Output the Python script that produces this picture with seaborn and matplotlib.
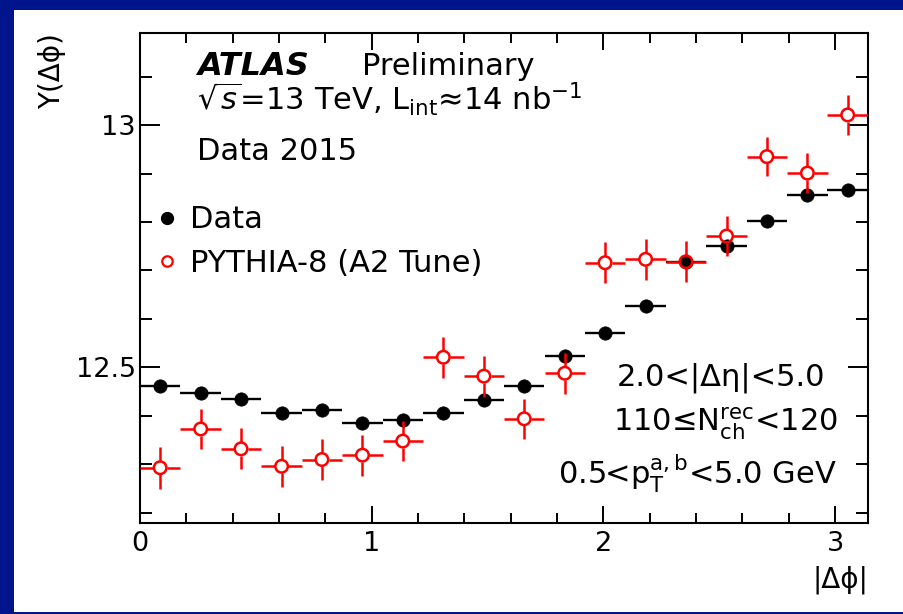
import matplotlib
matplotlib.use("Agg")
import numpy as np
import pandas as pd
import seaborn as sns
import matplotlib.pyplot as plt
from matplotlib.patches import Rectangle
from matplotlib.lines import Line2D
from matplotlib.collections import LineCollection
from matplotlib.ticker import MultipleLocator

# |Δφ| bin centres and half-widths
dphi = [0.087, 0.262, 0.436, 0.611, 0.785, 0.960, 1.134, 1.309, 1.484,
        1.658, 1.833, 2.007, 2.182, 2.356, 2.531, 2.705, 2.880, 3.054]
bin_halfwidth = [0.0873] * 18

# Measured per-trigger yield Y(Δφ)
data_y = [12.461, 12.447, 12.434, 12.406, 12.413, 12.386, 12.391, 12.405, 12.432,
          12.462, 12.523, 12.571, 12.627, 12.718, 12.751, 12.802, 12.856, 12.866]
data_err = [0.004] * 18

# PYTHIA-8 (A2 Tune) prediction
pythia_y = [12.293, 12.373, 12.332, 12.296, 12.310, 12.319, 12.348, 12.521, 12.482,
            12.394, 12.488, 12.716, 12.723, 12.718, 12.771, 12.935, 12.901, 13.021]
pythia_err = [0.043, 0.042, 0.042, 0.042, 0.042, 0.042, 0.042, 0.042, 0.042,
              0.041, 0.042, 0.042, 0.042, 0.042, 0.042, 0.041, 0.041, 0.042]

x_ticks = [0, 1, 2, 3]
y_ticks = [12.5, 13.0]
y_ticklabels = ["12.5", "13"]

df_data = pd.DataFrame({"dphi": dphi, "Y": data_y, "xerr": bin_halfwidth, "yerr": data_err})
df_py = pd.DataFrame({"dphi": dphi, "Y": pythia_y, "xerr": bin_halfwidth, "yerr": pythia_err})

sns.set_theme(style="ticks")
plt.rcParams["font.family"] = ["DejaVu Sans"]
plt.rcParams["mathtext.fontset"] = "dejavusans"
plt.rcParams["text.color"] = "black"
plt.rcParams["axes.labelcolor"] = "black"
plt.rcParams["legend.labelcolor"] = "black"

SLIDE_BLUE = "#00148C"
fig = plt.figure(figsize=(9.04, 6.14), dpi=100, facecolor=SLIDE_BLUE)
fig.patches.append(Rectangle((14 / 904, 2 / 614), 1 - 14 / 904, 602 / 614,
                             transform=fig.transFigure, facecolor="white",
                             edgecolor="none", zorder=-5))

ax = fig.add_axes([140 / 904, 1 - 523 / 614, 728 / 904, 490 / 614])
ax.set_zorder(1)
ax.set_facecolor("white")
ax.set_xlim(0, np.pi)
ax.set_ylim(12.179, 13.19)

MARKER_PT = 9.6
marker_r_px = MARKER_PT / 72 * fig.dpi / 2

# Data: full-width horizontal bars with filled dots
ax.errorbar(df_data["dphi"], df_data["Y"], xerr=df_data["xerr"], yerr=df_data["yerr"],
            fmt="none", ecolor="black", elinewidth=1.7, capsize=0, zorder=2)
sns.scatterplot(data=df_data, x="dphi", y="Y", ax=ax, color="black", marker="o",
                s=MARKER_PT ** 2, edgecolor="black", linewidth=0.5, zorder=3, legend=False)

# PYTHIA: error bars that stop at the edge of the open marker
px_x = ax.transData.transform((1, 0))[0] - ax.transData.transform((0, 0))[0]
px_y = ax.transData.transform((0, 1))[1] - ax.transData.transform((0, 0))[1]
gx = marker_r_px / px_x
gy = marker_r_px / px_y
segs = []
for xc, yc, hw, ey in zip(df_py["dphi"], df_py["Y"], df_py["xerr"], df_py["yerr"]):
    segs.append([(xc - hw, yc), (xc - gx, yc)])
    segs.append([(xc + gx, yc), (xc + hw, yc)])
    segs.append([(xc, yc - ey), (xc, yc - gy)])
    segs.append([(xc, yc + gy), (xc, yc + ey)])
ax.add_collection(LineCollection(segs, colors="#FF0000", linewidths=1.8, zorder=4))
sns.scatterplot(data=df_py, x="dphi", y="Y", ax=ax, marker="o", s=(MARKER_PT - 0.6) ** 2,
                facecolor="none", edgecolor="#FF0000", linewidth=1.8, zorder=5, legend=False)

# Axes styling
for sp in ax.spines.values():
    sp.set_visible(True)
    sp.set_linewidth(1.5)
    sp.set_color("black")
ax.set_xticks(x_ticks)
ax.set_xticklabels([str(t) for t in x_ticks])
ax.set_yticks(y_ticks)
ax.set_yticklabels(y_ticklabels)
ax.xaxis.set_minor_locator(MultipleLocator(0.2))
ax.yaxis.set_minor_locator(MultipleLocator(0.1))
ax.tick_params(which="both", direction="in", top=True, right=True, width=1.4,
               color="black", labelsize=19.5, labelcolor="black")
ax.tick_params(axis="x", which="major", length=12.2, pad=6)
ax.tick_params(axis="x", which="minor", length=7.2)
ax.tick_params(axis="y", which="major", length=14.4, pad=3)
ax.tick_params(axis="y", which="minor", length=8.6)
ax.set_xlabel("")
ax.set_ylabel("")
ax.grid(False)

FS = 22
ax.text(-0.121, 1.0, "Y(Δϕ)", rotation=90, ha="center", va="top",
        fontsize=20, transform=ax.transAxes)
ax.text(1.0, -0.116, "|Δϕ|", ha="right", va="center", fontsize=20,
        transform=ax.transAxes)

ax.text(0.078, 0.914, "ATLAS", fontsize=FS + 1, fontweight="bold", fontstyle="italic",
        ha="left", va="baseline", transform=ax.transAxes)
ax.text(0.305, 0.914, "Preliminary", fontsize=FS, ha="left", va="baseline",
        transform=ax.transAxes)
ax.text(0.078, 0.841, r"$\sqrt{s}$=13 TeV, L$_{\mathrm{int}}$≈14 nb$^{-1}$", fontsize=FS,
        ha="left", va="baseline", transform=ax.transAxes)
ax.text(0.078, 0.741, "Data 2015", fontsize=FS, ha="left", va="baseline",
        transform=ax.transAxes)

handles = [
    Line2D([], [], linestyle="none", marker="o", markersize=8.5, markerfacecolor="black",
           markeredgecolor="black"),
    Line2D([], [], linestyle="none", marker="o", markersize=7.5, markerfacecolor="none",
           markeredgecolor="#FF0000", markeredgewidth=1.6),
]
ax.legend(handles, ["Data", "PYTHIA-8 (A2 Tune)"], loc="upper left",
          bbox_to_anchor=(0.02, 0.648), frameon=False, fontsize=FS, handlelength=0.8,
          handletextpad=0.35, labelspacing=0.48, borderpad=0, borderaxespad=0,
          labelcolor="black")

ax.text(0.941, 0.2816, "2.0<|Δη|<5.0", fontsize=FS, ha="right", va="baseline",
        transform=ax.transAxes)
ax.text(0.959, 0.186, r"110≤N$_{\mathrm{ch}}^{\mathrm{rec}}$<120", fontsize=FS,
        ha="right", va="baseline", transform=ax.transAxes)
ax.text(0.957, 0.0776, r"0.5<$\mathrm{p}_{\mathrm{T}}^{\mathrm{a,b}}$<5.0 GeV", fontsize=FS,
        ha="right", va="baseline", transform=ax.transAxes)

fig.savefig("out.png", dpi=100, facecolor=fig.get_facecolor())
